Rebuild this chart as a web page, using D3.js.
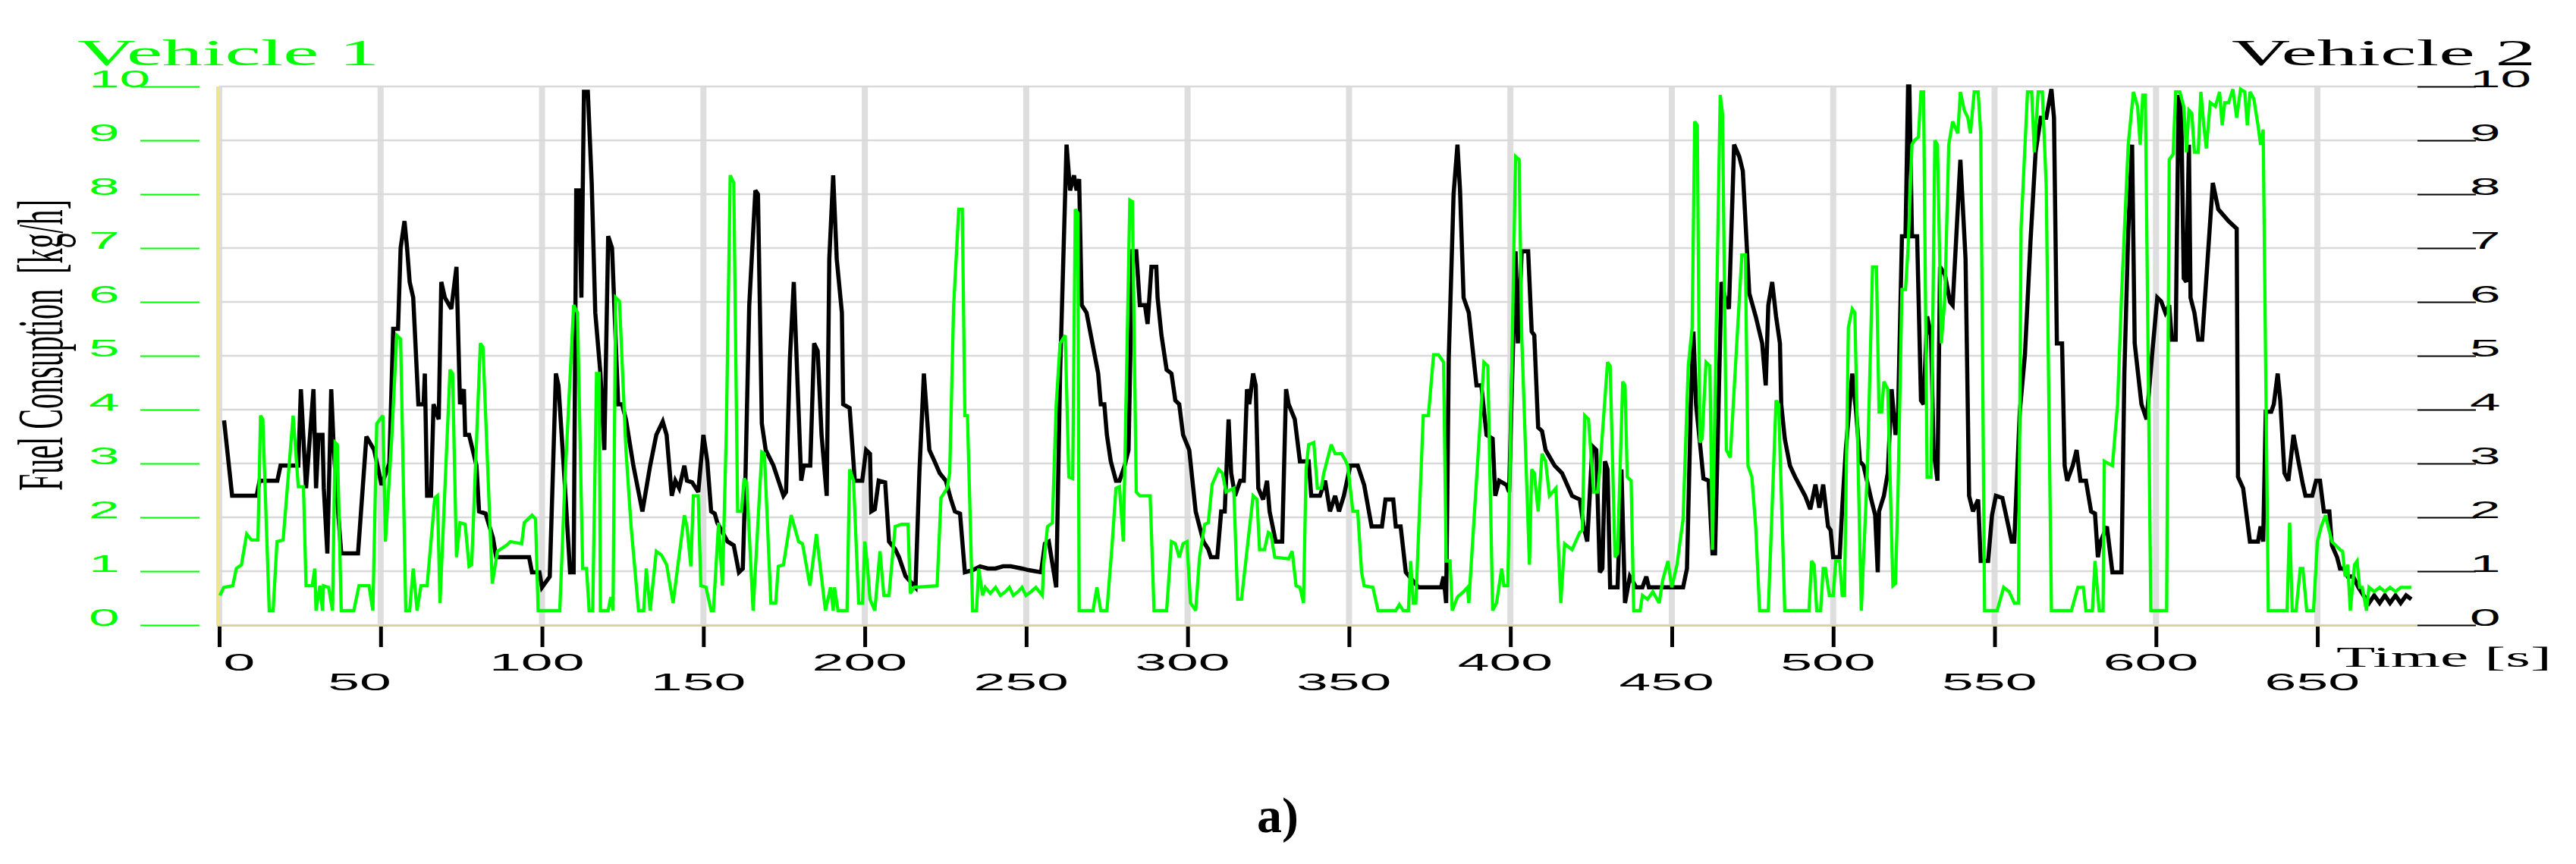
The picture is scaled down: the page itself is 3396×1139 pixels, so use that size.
<!DOCTYPE html>
<html>
<head>
<meta charset="utf-8">
<script src="https://cdn.jsdelivr.net/npm/d3@7"></script>
<style>
  body { margin: 0; background: #fff; }
  svg { display: block; }
</style>
</head>
<body>
<div class="fuel-plot"></div>
<script>
// tick values
const timeTicks = [0, 50, 100, 150, 200, 250, 300, 350, 400, 450, 500, 550, 600, 650];
const fuelTicks = [0, 1, 2, 3, 4, 5, 6, 7, 8, 9, 10];

// Vehicle 2 (black), [time s, fuel kg/h]
const vehicle2 = [[1.5,3.8],[4,2.4],[11.6,2.4],[12.5,2.68],[18,2.68],[19,2.96],[24.5,2.96],[25.3,4.38],[26.9,2.54],[29.2,4.38],[30,2.54],[30.8,3.53],[32,3.53],[32.4,2.54],[33.5,1.33],[34.7,4.38],[35.5,3.25],[36.3,2.54],[37.8,1.33],[43,1.33],[45.6,3.5],[48,3.25],[50.3,2.6],[52.7,3.0],[53.9,5.5],[55.4,5.5],[56.2,7.0],[57.4,7.5],[58.2,7.0],[59,6.37],[60.1,6.08],[61.7,4.1],[63.3,4.1],[63.7,4.67],[64.4,2.4],[65.6,2.4],[66.4,4.1],[68,3.82],[68.8,6.37],[69.9,6.08],[71.9,5.87],[73.5,6.65],[74.6,4.1],[75.8,4.38],[76.2,3.53],[77.4,3.53],[79.7,2.96],[80.5,2.11],[82.5,2.07],[84.8,1.62],[85.8,1.26],[96,1.26],[96.9,0.98],[99.2,0.98],[100,0.7],[102.4,0.9],[104.3,4.67],[105.1,4.45],[107,2.68],[108.7,0.98],[109.8,0.98],[110.6,8.07],[111.4,8.07],[112.2,6.08],[113,9.9],[114.2,9.9],[115.4,8.2],[116.5,5.8],[118.1,4.67],[119.3,3.25],[120.5,7.22],[121.7,7.0],[123.6,4.1],[124.8,4.1],[126,3.82],[128.3,2.96],[131.1,2.11],[133.5,2.96],[135.4,3.53],[137.4,3.78],[138.6,3.53],[140.2,2.4],[141.3,2.68],[142.5,2.54],[144.1,2.96],[144.9,2.68],[146.5,2.65],[148.4,2.47],[150,3.53],[151.2,3.04],[152.4,2.11],[153.5,2.07],[154.3,1.9],[157.5,1.55],[159.4,1.48],[161,0.98],[162.2,1.05],[163,2.68],[164.2,5.94],[166.1,8.07],[166.9,8.0],[168.1,3.74],[169.3,3.25],[171.7,2.96],[174.8,2.4],[175.6,2.47],[176.8,4.95],[178,6.37],[178.7,5.23],[180.3,2.68],[181.1,2.96],[183.1,2.96],[184.3,5.23],[185.4,5.09],[186.6,3.53],[188.2,2.4],[189,6.8],[190.2,8.35],[191.3,6.8],[192.9,5.8],[193.3,4.1],[195.3,4.03],[196.9,2.68],[199.2,2.68],[200.4,3.25],[201.6,3.18],[202,2.11],[203.1,2.15],[204.3,2.68],[206.3,2.65],[207.5,1.55],[209.4,1.41],[210.6,1.26],[212.6,0.91],[215.7,0.7],[216.9,2.82],[218.3,4.67],[220,3.25],[221.6,3.04],[223.2,2.82],[225.1,2.68],[226.7,2.33],[227.9,2.11],[229.5,2.07],[231,0.98],[233.4,1.02],[235.7,1.09],[238.1,1.05],[240.5,1.05],[242.8,1.09],[245.2,1.09],[248.7,1.05],[250.7,1.02],[254.6,0.98],[255.8,1.51],[257,1.55],[259.3,0.7],[260.5,4.67],[262.5,8.92],[263.6,8.07],[264.8,8.35],[265.6,8.07],[266.4,8.28],[267.2,5.94],[268.7,5.8],[272.3,4.67],[273.1,4.1],[274.2,4.1],[275,3.53],[276.2,3.04],[277.8,2.68],[278.9,2.68],[280.5,2.96],[281.7,3.25],[282.9,6.94],[284.1,6.94],[285.2,5.94],[286.8,5.94],[287.6,5.59],[288.8,6.65],[290.3,6.65],[290.7,6.08],[291.9,5.38],[293.5,4.74],[295,4.67],[296.2,4.17],[297.4,4.1],[298.6,3.53],[300.5,3.25],[302.5,2.11],[304.9,1.55],[306.4,1.41],[307.2,1.26],[309.2,1.26],[310.4,2.11],[311.5,2.11],[312.7,3.82],[313.5,2.82],[314.7,2.4],[316.3,2.68],[317.4,2.68],[318.4,4.38],[319.1,4.1],[320.3,4.67],[321.1,4.45],[321.9,2.54],[323.4,2.33],[324.6,2.68],[325.4,2.11],[327.3,1.55],[329.3,1.55],[330.5,4.38],[331.3,4.1],[333.2,3.82],[334.8,3.04],[337.5,3.04],[338.3,2.4],[341,2.4],[342.6,2.68],[344.1,2.11],[345.7,2.4],[346.9,2.11],[348.4,2.4],[350.4,2.96],[352.7,2.96],[354.7,2.6],[357,1.83],[360.2,1.83],[361.3,2.33],[363.7,2.33],[364.5,1.83],[366,1.83],[367.6,0.98],[371.5,0.7],[378.5,0.7],[379.3,0.9],[380.1,0.41],[380.9,4.95],[382.4,8.0],[383.6,8.92],[384.4,8.07],[385.5,6.08],[387.1,5.8],[389.5,4.45],[391,4.45],[392.6,3.53],[394.5,3.46],[395.3,2.4],[396.5,2.68],[398.8,2.6],[399.6,2.47],[401.6,6.94],[402.3,5.23],[403.5,6.94],[405.5,6.94],[406.6,5.45],[407.4,5.38],[408.6,3.67],[409.8,3.6],[410.9,3.25],[413.7,2.96],[416,2.82],[419.1,2.4],[421.5,2.33],[422.7,1.83],[423.8,1.55],[425.4,3.32],[426.6,3.25],[427.7,0.98],[428.5,1.05],[429.3,3.04],[430.1,2.89],[430.9,0.7],[433.2,0.7],[434.4,2.89],[435.5,0.41],[437,0.9],[439,0.7],[440.9,0.7],[442.1,0.9],[442.9,0.7],[453.5,0.7],[454.7,1.05],[455.9,4.1],[456.7,5.45],[457.5,4.1],[458.7,3.39],[459.8,2.72],[461.4,2.68],[462.6,1.33],[463.4,1.33],[464.6,4.38],[465.4,6.37],[466.5,6.08],[467.7,5.87],[469.3,8.92],[470.9,8.7],[472,8.43],[474,6.16],[476,5.73],[478,5.23],[479.1,4.45],[479.9,5.94],[481.1,6.37],[482.3,5.73],[483.5,5.23],[483.9,4.1],[485,3.46],[486.6,2.96],[488.2,2.75],[491.3,2.4],[492.9,2.15],[494.5,2.61],[495.7,2.18],[496.9,2.61],[498.4,1.83],[499.2,1.76],[500,1.26],[502,1.26],[502.8,2.18],[503.9,3.25],[505.9,4.67],[507.1,3.96],[508.3,3.04],[509.4,2.96],[511.8,2.33],[513,2.04],[513.8,0.98],[514.2,2.11],[515.7,2.4],[516.9,2.82],[518.1,4.38],[519.3,3.53],[520.1,3.96],[521.3,7.22],[522.4,7.22],[523.2,10],[523.6,10],[524.4,7.22],[526,7.22],[527.2,4.17],[528,4.1],[529.1,5.73],[530.3,5.38],[531.1,3.25],[532.3,2.68],[533.1,6.65],[534.6,6.51],[536.2,6.0],[537,5.94],[539.4,8.64],[541,6.8],[542.1,2.4],[543.3,2.11],[544.9,2.33],[545.7,1.19],[548,1.19],[549.2,2.04],[550.4,2.4],[552.4,2.36],[555.3,1.55],[556.1,1.55],[557.8,3.96],[559.4,5.02],[561.1,7.1],[562.7,8.78],[564.3,9.42],[566,9.42],[567.6,9.95],[568.4,9.42],[569.3,5.23],[570.9,5.23],[571.7,2.96],[572.5,2.68],[574.2,2.96],[575.4,3.25],[576.6,2.68],[578.3,2.68],[579.9,2.11],[581.1,2.07],[582,1.26],[582.8,1.55],[584.8,1.83],[586.5,0.98],[589.3,0.98],[590.2,4.67],[591.4,7.3],[592.6,8.92],[593.4,5.23],[595.5,4.1],[597.1,3.82],[598.8,5.02],[600.4,6.08],[601.6,6.01],[602.9,5.8],[604.1,5.94],[604.9,5.3],[606.1,5.3],[607,9.84],[607.8,9.63],[608.6,6.44],[609.4,6.37],[610.2,8.92],[610.7,6.08],[611.9,5.8],[613.1,5.3],[614.3,5.3],[616,6.8],[617.6,8.21],[619.3,7.72],[622.5,7.5],[625,7.36],[625.4,2.75],[627,2.54],[629.1,1.55],[631.6,1.55],[632.4,1.83],[633.2,1.55],[634,3.96],[635.7,3.96],[636.5,4.1],[637.7,4.67],[638.5,4.17],[639.8,2.82],[641,2.68],[642.6,3.53],[643.9,3.11],[645.5,2.61],[646.3,2.4],[648.4,2.4],[649.6,2.68],[650.8,2.68],[652,2.11],[653.7,2.11],[654.5,1.48],[656.1,1.26],[657,1.05],[658.2,1.05],[659.4,0.9],[661.1,0.9],[662.7,0.7],[664.3,0.55],[666,0.41],[667.6,0.55],[669.3,0.41],[670.9,0.55],[672.5,0.41],[674.2,0.55],[675.8,0.41],[677.5,0.55],[679.1,0.48]];

// Vehicle 1 (green), [time s, fuel kg/h]
const vehicle1 = [[0.2,0.55],[1.4,0.7],[4.2,0.73],[5.3,1.05],[6.9,1.12],[8.5,1.69],[10,1.58],[12,1.58],[12.8,3.89],[13.5,3.82],[15.5,0.27],[16.7,0.27],[17.9,1.55],[19.8,1.58],[22.9,3.89],[24.5,2.57],[26.1,2.57],[26.9,0.73],[28.8,0.73],[29.6,1.05],[30,0.27],[31.2,0.73],[32,0.27],[32.3,0.73],[33.9,0.7],[35.1,0.27],[35.9,3.39],[36.6,3.35],[37.8,0.27],[41.7,0.27],[43.3,0.73],[46.4,0.73],[47.6,0.27],[48.8,3.74],[50.7,3.89],[51.5,1.55],[53.5,3.53],[55,5.38],[56.2,5.31],[57.8,0.27],[59,0.27],[60.1,1.05],[61.3,0.27],[62.5,0.73],[64.4,0.73],[66.8,2.36],[67.6,2.4],[68.4,0.41],[71.5,4.74],[72.3,4.67],[73.5,1.26],[74.6,1.9],[76.2,1.87],[77.4,1.09],[78.2,1.12],[80.9,5.23],[81.7,5.16],[84.6,0.77],[86.2,1.37],[89,1.48],[90.2,1.55],[93.7,1.51],[94.5,1.9],[96.9,2.04],[98,1.97],[98.8,0.27],[105.5,0.27],[107.1,2.68],[109.8,5.94],[111,5.8],[112.6,1.05],[113.8,1.05],[114.6,0.27],[115.7,0.27],[116.9,4.67],[117.7,4.67],[118.1,0.27],[120.5,0.27],[121.3,0.52],[122,0.27],[122.8,6.08],[124,6.01],[126,3.25],[127.6,1.83],[129.9,0.27],[131.5,0.27],[132.3,1.05],[133.5,0.27],[135.4,1.37],[137,1.3],[138.6,1.12],[140.6,0.41],[144.1,2.04],[144.9,1.83],[146.1,1.09],[146.9,2.4],[148.4,2.4],[149.2,0.73],[150.8,0.7],[152.4,0.27],[153.1,0.27],[154.7,1.9],[155.9,0.73],[157.1,3.6],[158.3,8.35],[159.4,8.21],[160.6,2.11],[161.8,2.11],[162.6,2.72],[163.4,2.65],[165.4,0.27],[168.1,3.21],[168.9,3.18],[170.9,0.41],[172.4,0.41],[173.2,1.09],[174.8,1.12],[177.2,2.04],[179.5,1.55],[180.7,1.51],[183,0.73],[185,1.69],[187.8,0.27],[189.4,0.7],[190.2,0.27],[190.6,0.7],[191.7,0.27],[194.5,0.27],[195.3,2.89],[196.5,2.68],[198.1,0.41],[199.3,0.41],[200,1.55],[200.8,1.12],[201.6,0.48],[203.1,0.27],[204.7,1.37],[205.9,0.55],[207.5,0.55],[209.4,1.83],[211.4,1.87],[213.4,1.87],[214.1,0.59],[215.3,0.7],[222.4,0.73],[223.6,2.36],[225.5,2.54],[226.3,2.82],[227.5,5.9],[229.1,7.72],[230.2,7.72],[231,3.89],[231.8,3.89],[233.4,0.27],[234.6,0.27],[235.3,1.05],[236.5,0.55],[237.3,0.7],[238.9,0.59],[240.5,0.7],[242,0.55],[243.6,0.62],[244.8,0.7],[246,0.55],[247.5,0.62],[248.7,0.7],[249.9,0.55],[251.5,0.62],[253,0.7],[255,0.55],[255.4,1.12],[256.6,1.83],[258.1,1.9],[259.3,4.1],[260.5,5.23],[262.1,5.38],[263.2,2.75],[264.4,2.72],[265.2,7.72],[266,7.65],[266.4,0.27],[270.7,0.27],[271.9,0.7],[273.1,0.27],[275,0.27],[276.6,1.48],[277.8,2.54],[278.9,2.57],[280.1,1.55],[282.1,7.89],[282.9,7.86],[284.1,2.47],[285.2,2.4],[288.4,2.4],[289.6,0.27],[293.5,0.27],[295,1.55],[296.2,1.51],[297.4,1.26],[298.6,1.51],[299.8,1.55],[300.9,0.41],[302.5,0.27],[303.7,1.26],[305.3,1.87],[306.4,1.9],[307.6,2.61],[309.6,2.89],[310.8,2.82],[311.9,2.47],[314.3,2.54],[315.5,0.48],[316.7,0.48],[320.3,2.4],[321.5,2.33],[322.3,1.4],[323.8,1.4],[325,1.72],[325.8,1.69],[327,1.26],[331.3,1.23],[332.4,1.37],[333.6,0.73],[334.8,0.7],[335.9,0.41],[336.7,2.89],[337.5,3.35],[339.1,3.39],[340.2,2.54],[341.4,2.54],[342.2,2.82],[344.5,3.35],[345.7,3.18],[347.7,3.18],[348.8,3.07],[349.6,2.96],[351.2,2.11],[352.7,2.11],[353.9,0.98],[354.7,0.73],[357.4,0.7],[359,0.27],[364.5,0.27],[365.6,0.38],[366.8,0.27],[368.4,0.27],[369.1,1.19],[369.9,0.41],[370.7,0.41],[373,3.89],[374.6,3.89],[376.2,5.02],[377.7,5.02],[379.3,4.88],[380.1,1.19],[381.3,1.19],[382,0.27],[383.6,0.52],[385.5,0.62],[386.7,0.7],[387.1,0.41],[391.8,4.88],[393,4.81],[394.5,0.27],[395.7,0.41],[397.3,1.05],[398,0.73],[399.2,0.73],[401.6,8.7],[402.7,8.64],[403.5,5.38],[405.9,1.12],[406.6,2.89],[407.4,2.82],[408.6,2.11],[409.8,3.18],[410.9,3.04],[412.1,2.4],[414.1,2.54],[415.6,0.41],[416.8,1.51],[419.1,1.4],[421.5,1.72],[422.3,1.76],[423,3.89],[424.2,3.82],[425.8,2.47],[427,2.47],[427.7,2.89],[430.1,4.88],[430.9,4.81],[432.4,1.26],[433.2,1.33],[434.8,4.52],[435.5,4.45],[436.2,2.75],[437.4,2.68],[438.2,0.27],[440.2,0.27],[440.9,0.55],[442.5,0.48],[444.1,0.62],[446.1,0.41],[447.2,0.84],[448.8,1.19],[450,0.7],[451.6,1.12],[453.5,1.97],[455.1,4.81],[456.3,5.52],[457.1,9.35],[457.9,9.28],[458.7,3.39],[459.4,3.46],[460.6,4.88],[461.8,4.81],[462.6,1.4],[465,9.84],[465.7,9.5],[466.9,3.25],[468.1,3.11],[471.7,6.87],[472.8,6.87],[473.6,2.96],[474.8,2.75],[476,1.83],[477.2,0.27],[479.9,0.27],[482.3,4.17],[483.1,4.1],[485,0.27],[492.5,0.27],[493.3,1.19],[494.1,1.12],[494.9,0.27],[496.1,0.27],[496.9,1.05],[497.6,1.05],[498.8,0.55],[500,0.55],[500.8,1.19],[502,1.19],[502.8,0.55],[503.5,0.55],[504.7,5.52],[505.9,5.87],[506.7,5.8],[508.7,0.27],[510.6,2.89],[512.2,6.65],[513.4,6.65],[514.2,3.96],[515,3.96],[515.7,4.52],[516.9,4.38],[518.5,0.73],[519.3,0.77],[520.1,2.54],[521.3,6.23],[522.4,6.23],[523.2,7.0],[524.4,8.92],[525.2,9.0],[526.4,9.06],[527.2,9.9],[528,9.9],[529.1,2.75],[530.3,2.75],[531.5,9.0],[532.3,8.92],[533.5,5.23],[534.6,6.08],[535.8,8.92],[537,9.35],[538.6,9.13],[539.4,9.9],[540.6,9.56],[541.7,9.42],[542.5,9.13],[543.7,9.9],[544.9,9.9],[545.7,9.13],[546.9,0.27],[550.8,0.27],[552.8,0.7],[554.5,0.62],[556.1,0.41],[557.4,0.41],[558.2,7.36],[560.2,9.9],[561.5,9.9],[562.3,8.78],[563.5,9.9],[564.8,9.9],[566,8.14],[567.6,0.27],[573.8,0.27],[575.8,0.7],[577.5,0.7],[578.3,0.27],[580.3,0.27],[581.1,1.19],[582.4,0.27],[583.6,0.27],[584,3.04],[586.5,2.96],[588.1,4.1],[589.3,6.08],[591.4,8.92],[593,9.9],[594.3,9.63],[595.1,8.92],[595.9,9.84],[596.7,9.84],[598.4,0.27],[603.3,0.27],[604.1,8.64],[605.3,8.74],[606.1,9.9],[607.4,9.9],[608.6,9.63],[609.4,8.78],[610.2,9.56],[611.1,9.5],[611.9,8.78],[613.1,8.78],[613.9,9.9],[614.8,9.28],[615.6,8.85],[616.8,9.7],[618.4,9.63],[619.7,9.9],[620.5,9.28],[621.3,9.7],[622.5,9.7],[623.8,9.95],[625,9.42],[626.2,9.95],[627.5,9.9],[628.3,9.28],[629.1,9.9],[630.3,9.77],[631.6,9.28],[632.4,8.92],[633.2,9.2],[634,4.67],[634.8,0.27],[640.6,0.27],[641.4,1.9],[642.2,0.27],[643.4,0.27],[644.7,1.05],[645.5,1.05],[646.7,0.27],[648.8,0.27],[650,1.55],[651.2,1.83],[652.5,2.04],[653.3,1.83],[654.5,1.55],[655.7,1.48],[657,1.4],[657.8,1.37],[658.6,0.9],[659.4,1.12],[660.2,0.27],[661.5,1.12],[662.3,1.19],[663.1,0.7],[663.9,0.7],[665.2,0.27],[666,0.7],[667.6,0.62],[669.3,0.7],[670.9,0.62],[672.5,0.7],[674.2,0.62],[675.8,0.7],[679.1,0.7]];

const GREEN = "#00ff00";
// the original figure is stretched sideways, so text is too
const STRETCH = 2.35;

function main(){
    const width = 3396;
    const height = 1139;
    const left = 289, right = 3187, top = 114, bottom = 824;

    const svg = d3.select('.fuel-plot')
        .append('svg')
        .attr('width', width)
        .attr('height', height);

    const x = d3.scaleLinear().domain([0, 681]).range([left, right]);
    const y = d3.scaleLinear().domain([0, 10]).range([bottom, top]);

    // vertical grid
    svg.append("g")
        .selectAll("line")
        .data(timeTicks)
        .enter()
        .append("line")
        .attr("x1", d => x(d)).attr("x2", d => x(d))
        .attr("y1", top).attr("y2", bottom)
        .attr("stroke", "#dedede")
        .attr("stroke-width", 8);

    // horizontal grid
    svg.append("g")
        .selectAll("line")
        .data(fuelTicks)
        .enter()
        .append("line")
        .attr("x1", left).attr("x2", right)
        .attr("y1", d => y(d)).attr("y2", d => y(d))
        .attr("stroke", "#d9d9d9")
        .attr("stroke-width", 2.5);

    // plot frame bits
    svg.append("line")
        .attr("x1", left - 1.5).attr("x2", left - 1.5)
        .attr("y1", top).attr("y2", bottom)
        .attr("stroke", "#f2e48c")
        .attr("stroke-width", 3.5);
    svg.append("line")
        .attr("x1", left - 3).attr("x2", right)
        .attr("y1", bottom + 1).attr("y2", bottom + 1)
        .attr("stroke", "#d9cf9c")
        .attr("stroke-width", 2);

    const line = d3.line()
        .x(d => x(d[0]))
        .y(d => y(d[1]));

    svg.append("path")
        .datum(vehicle2)
        .attr("d", line)
        .attr("fill", "none")
        .attr("stroke", "#000")
        .attr("stroke-width", 5.5)
        .attr("stroke-linejoin", "miter")
        .attr("stroke-miterlimit", 3);

    svg.append("path")
        .datum(vehicle1)
        .attr("d", line)
        .attr("fill", "none")
        .attr("stroke", GREEN)
        .attr("stroke-width", 4.3)
        .attr("stroke-linejoin", "miter")
        .attr("stroke-miterlimit", 3);

    // left axis (Vehicle 1, green)
    const leftAxis = svg.append("g")
        .attr("transform", "translate(263,0)")
        .call(d3.axisLeft(y).tickValues(fuelTicks).tickSizeInner(78).tickSizeOuter(0));
    leftAxis.select(".domain").remove();
    leftAxis.selectAll(".tick line").attr("stroke", GREEN).attr("stroke-width", 2);
    leftAxis.selectAll(".tick text")
        .attr("x", null).attr("dy", null)
        .attr("text-anchor", "start")
        .attr("transform", `translate(${117 - 263},0) scale(${STRETCH},1)`)
        .attr("fill", GREEN)
        .style("font-family", "'Liberation Sans', Arial, sans-serif")
        .style("font-size", "31px");

    // right axis (Vehicle 2, black)
    const rightAxis = svg.append("g")
        .attr("transform", `translate(${right},0)`)
        .call(d3.axisRight(y).tickValues(fuelTicks).tickSizeInner(77).tickSizeOuter(0));
    rightAxis.select(".domain").remove();
    rightAxis.selectAll(".tick line").attr("stroke", "#000").attr("stroke-width", 2);
    rightAxis.selectAll(".tick text")
        .attr("x", null).attr("dy", null)
        .attr("text-anchor", "start")
        .attr("transform", `translate(${3256 - right},0) scale(${STRETCH},1)`)
        .attr("fill", "#000")
        .style("font-family", "'Liberation Sans', Arial, sans-serif")
        .style("font-size", "31px");

    // time axis, labels staggered on two rows
    const timeAxis = svg.append("g")
        .attr("transform", `translate(0,${bottom + 2})`)
        .call(d3.axisBottom(x).tickValues(timeTicks).tickSizeInner(27).tickSizeOuter(0));
    timeAxis.select(".domain").remove();
    timeAxis.selectAll(".tick line").attr("stroke", "#000").attr("stroke-width", 5);
    timeAxis.selectAll(".tick text")
        .attr("y", null).attr("dy", null)
        .attr("text-anchor", "start")
        .attr("transform", d => {
            let dx = d == 0 ? 5 : -70;
            let dy = d % 100 == 0 ? 58 : 84;
            return `translate(${dx},${dy}) scale(${STRETCH},1)`;
        })
        .attr("fill", "#000")
        .style("font-family", "'Liberation Sans', Arial, sans-serif")
        .style("font-size", "32px");

    // titles
    svg.append("text")
        .text("Vehicle 1")
        .attr("x", 102).attr("y", 86)
        .attr("textLength", 398).attr("lengthAdjust", "spacingAndGlyphs")
        .attr("fill", GREEN)
        .style("font-family", "'Liberation Serif', 'Times New Roman', serif")
        .style("font-size", "48px");

    svg.append("text")
        .text("Vehicle 2")
        .attr("x", 2942).attr("y", 86)
        .attr("textLength", 401).attr("lengthAdjust", "spacingAndGlyphs")
        .attr("fill", "#000")
        .style("font-family", "'Liberation Serif', 'Times New Roman', serif")
        .style("font-size", "48px");

    svg.append("text")
        .text("Time [s]")
        .attr("x", 3080).attr("y", 879)
        .attr("textLength", 284).attr("lengthAdjust", "spacingAndGlyphs")
        .attr("fill", "#000")
        .style("font-family", "'Liberation Serif', 'Times New Roman', serif")
        .style("font-size", "37px");

    svg.append("text")
        .text("Fuel Consuption  [kg/h]")
        .attr("transform", `translate(82,455) scale(2.2,1) rotate(-90)`)
        .attr("text-anchor", "middle")
        .attr("textLength", 384).attr("lengthAdjust", "spacingAndGlyphs")
        .attr("fill", "#000")
        .style("white-space", "pre")
        .style("font-family", "'Liberation Serif', 'Times New Roman', serif")
        .style("font-size", "38px");

    svg.append("text")
        .text("a)")
        .attr("x", 1657).attr("y", 1097)
        .attr("fill", "#000")
        .style("font-family", "'Liberation Serif', 'Times New Roman', serif")
        .style("font-weight", "bold")
        .style("font-size", "66px");
}

main();
</script>
</body>
</html>
